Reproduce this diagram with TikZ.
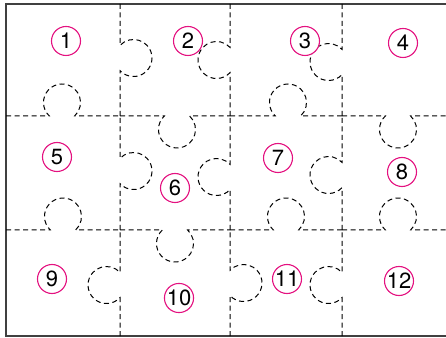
\documentclass[tikz,border=0pt]{standalone}
\usepackage{fontspec}
\setmainfont{TeX Gyre Heros}
\definecolor{tagpink}{RGB}{228,18,128}

% one cut edge with a round tab: y, x from, x to, tab centre, +1 up / -1 down
\newcommand{\hcut}[5]{%
  \draw[cut] (#2,#1) -- ({#4-12.65},#1)
    arc[start angle={180+#5*46.9}, end angle={180-#5*226.9}, radius=18.5]
    -- (#3,#1);}
% x, y from, y to, tab centre, +1 right / -1 left
\newcommand{\vcut}[5]{%
  \draw[cut] (#1,#2) -- (#1,{#4-12.65})
    arc[start angle={90+#5*133.1}, end angle={90+#5*406.9}, radius=18.5]
    -- (#1,#3);}

\begin{document}
\begin{tikzpicture}[
  x=1pt, y=1pt,
  cut/.style={draw=black, line width=1pt, dash pattern=on 5pt off 3.5pt},
  frame/.style={draw=black!75, line width=1.6pt},
  piece/.style={draw=tagpink, circle, line width=1.1pt, fill=white,
    minimum size=29pt, inner sep=0pt, text=black,
    font=\fontsize{22}{22}\selectfont}]
\useasboundingbox (0,0) rectangle (446,337);

% outer frame (open on the right)
\draw[frame] (446,333) -- (6,333) -- (6,1) -- (446,1);

% rows
\hcut{221}{6}{120}{62}{1}
\hcut{221}{120}{230}{177}{-1}
\hcut{221}{230}{342}{288}{1}
\hcut{221}{342}{446}{398}{-1}
\hcut{107}{6}{120}{63}{1}
\hcut{107}{120}{230}{175}{-1}
\hcut{107}{230}{342}{286}{1}
\hcut{107}{342}{446}{398}{1}

% columns
\vcut{120}{221}{333}{279}{1}
\vcut{120}{107}{221}{166}{1}
\vcut{120}{1}{107}{52}{-1}
\vcut{230}{221}{333}{277}{-1}
\vcut{230}{107}{221}{160}{-1}
\vcut{230}{1}{107}{54}{1}
\vcut{342}{221}{333}{275}{-1}
\vcut{342}{107}{221}{162}{-1}
\vcut{342}{1}{107}{52}{-1}

% piece numbers
\node[piece] (p1) at (66,296) {1};
\node[piece] (p2) at (188,296) {2};
\node[piece] (p3) at (305,296) {3};
\node[piece] (p4) at (403,294) {4};
\node[piece] (p5) at (57,180) {5};
\node[piece] (p6) at (175,149) {6};
\node[piece] (p7) at (278,179) {7};
\node[piece] (p8) at (402,165) {8};
\node[piece] (p9) at (52,58) {9};
\node[piece] (p10) at (179,39) {10};
\node[piece] (p11) at (287,58) {11};
\node[piece] (p12) at (399,56) {12};
\end{tikzpicture}
\end{document}
